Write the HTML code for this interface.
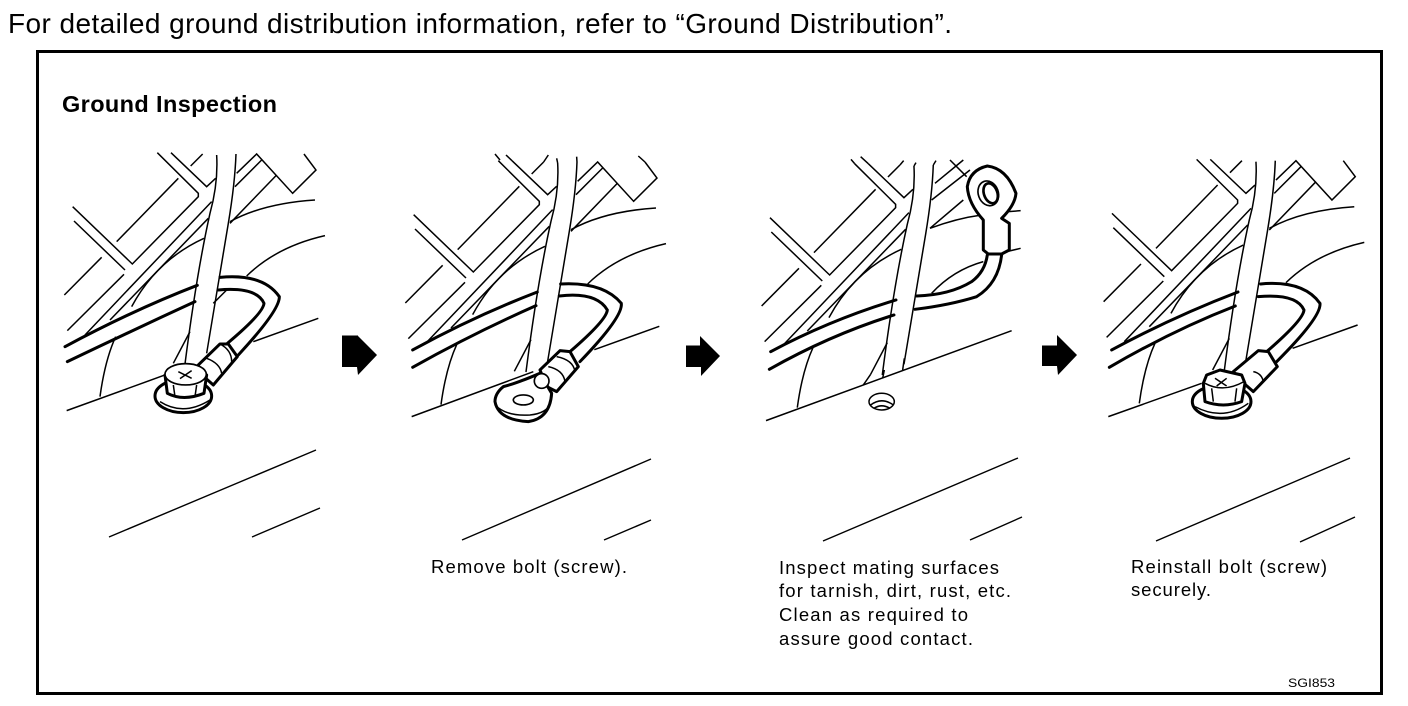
<!DOCTYPE html>
<html><head><meta charset="utf-8"><style>
html,body{margin:0;padding:0;background:#fff;width:1408px;height:706px;overflow:hidden}
svg{display:block}
text{font-family:"Liberation Sans",sans-serif;fill:#000}
.c{font-size:18.500px}
.t{fill:none;stroke:#000;stroke-width:4.500}
.w{fill:none;stroke:#000;stroke-width:9;stroke-linecap:round}
.f{fill:#fff;stroke:#000;stroke-width:9;stroke-linejoin:round}
.g{fill:#fff;stroke:#000;stroke-width:5;stroke-linejoin:round}
</style></head><body>
<svg width="1408" height="706" viewBox="0 0 1408 706" xmlns="http://www.w3.org/2000/svg">
<defs>
<g id="bgL" class="t">
<path d="M68 200L247 372L445 170L445 160L322 38"/>
<path d="M72 243L225 390"/>
<path d="M155 352L43 465"/>
<path d="M222 403L52 572"/>
<path d="M200 305L385 115"/>
<path d="M363 38L470 140L497 115"/>
<path d="M422 78L458 42"/>
<path d="M105 585L485 185"/>
<path d="M180 540L475 235"/>
<path d="M245 500Q320 360 462 295"/>
<path d="M500 45Q505 130 480 220Q440 400 405 672"/>
<path d="M558 42Q555 130 535 250L470 640"/>
<path d="M370 670L420 575"/>
<path d="M150 770Q165 660 197 590"/>
</g>
<g id="bgR" class="t">
<path d="M560 100L620 42L728 160L798 90L762 42"/>
<path d="M555 140L635 60"/>
<path d="M540 250L680 105"/>
<path d="M540 245Q640 190 795 180"/>
<path d="M590 408Q680 320 825 287"/>
<path d="M610 605L805 535"/>
</g>
</defs>

<text x="8" y="33" font-size="28" textLength="944" lengthAdjust="spacing">For detailed ground distribution information, refer to “Ground Distribution”.</text>
<rect x="37.500" y="51.500" width="1344" height="642" fill="none" stroke="#000" stroke-width="3"/>
<text x="62" y="112" font-size="23.500" font-weight="bold" textLength="215" lengthAdjust="spacing">Ground Inspection</text>

<!-- Panel 1 -->
<g transform="translate(50,140) scale(.3333)">
<use href="#bgL"/><use href="#bgR"/>
<path class="t" d="M50 812L345 705"/>
<path class="w" d="M45 620Q250 510 442 436"/>
<path class="w" d="M510 412Q640 400 688 470Q690 510 565 645"/>
<path class="w" d="M52 665Q250 570 435 485"/>
<path class="w" d="M505 450Q620 440 642 490Q640 520 530 612"/>
<path class="t" d="M490 490L530 450"/>
<path class="f" d="M445 675L510 612L535 612L562 650L490 735L450 700Z"/>
<path class="t" d="M470 655Q510 670 515 700M510 612Q545 630 545 665"/>
<ellipse class="f" cx="400" cy="768" rx="85" ry="50"/>
<path class="t" d="M330 785Q400 830 480 780"/>
<path class="f" d="M345 705L352 760Q400 785 462 760L470 705Q410 660 345 705Z"/>
<ellipse class="g" cx="407" cy="703" rx="62" ry="32"/>
<path class="t" d="M385 695L425 715M425 692L390 716M370 735L375 770M440 735L435 770"/>
</g>

<path d="M342 335.500H357V335L377 355L358 375L357 367H342Z"/>

<!-- Panel 2 -->
<g transform="translate(391,148) scale(.3333)">
<use href="#bgL"/><use href="#bgR"/>
</g>
<g transform="translate(400,140) scale(.3333)">
<path class="t" d="M285 42L300 60M318 45L336 62M431 66L445 45M470 55L473 69M530 50L531 66M715 48L735 66"/>
<path class="t" d="M35 830L400 695"/>
<path class="w" d="M38 630Q220 530 412 456"/>
<path class="w" d="M482 432Q610 425 664 490Q670 530 540 665"/>
<path class="w" d="M38 682Q220 580 408 497"/>
<path class="w" d="M478 468Q590 455 622 510Q620 540 510 635"/>
<path class="f" d="M420 690L480 632L510 635L535 680L470 755L440 740Z"/>
<path class="t" d="M445 680Q490 690 495 725M470 650Q520 660 525 695"/>
<path class="f" d="M420 700Q350 730 310 740Q285 760 285 785Q295 840 385 845Q450 835 455 760Z"/>
<path class="t" d="M285 795Q320 830 390 825Q440 820 452 790"/>
<ellipse class="g" cx="370" cy="780" rx="30" ry="15"/>
<circle class="g" cx="425" cy="723" r="22"/>
</g>

<path d="M686 345.500H700V336L720 356L701 376V367H686Z"/>

<!-- Panel 3 -->
<g transform="translate(747.300,151) scale(.3333)">
<use href="#bgL"/>
</g>
<g transform="translate(750,140) scale(.3333)">
<path class="t" d="M303 58L314 71M332 50L355 71M450 75L461 62M498 68L492 78M558 62L550 75"/>
<path class="t" d="M398 715L403 690M458 690L463 655M340 735L362 703"/>
<path class="t" d="M48 842L785 572"/>
<path class="t" d="M555 130L640 60M545 180L660 90M540 265L640 180M540 265Q620 235 695 225M775 215L812 212M770 335L812 325M545 460Q610 390 700 365M600 60L650 110"/>
<path class="w" d="M62 635Q240 540 438 480"/>
<path class="w" d="M500 468Q600 465 665 425Q705 395 712 345"/>
<path class="w" d="M58 688Q240 585 432 525"/>
<path class="w" d="M495 508Q600 495 680 470Q745 430 755 345"/>
<path class="f" d="M700 330V240Q655 190 652 140Q660 90 712 78Q770 85 798 160Q795 195 755 235L778 250V330L755 342H715Z"/>
<ellipse class="g" transform="rotate(-20 715 160)" cx="715" cy="160" rx="30" ry="38"/>
<ellipse cx="722" cy="160" rx="20" ry="31" transform="rotate(-20 722 160)" fill="#fff" stroke="#000" stroke-width="8"/>
<ellipse class="t" cx="395" cy="785" rx="38" ry="25"/>
<path class="t" d="M362 795Q395 770 430 795M372 805Q395 790 420 805"/>
</g>

<path d="M1042 345.500H1057V335L1077 355L1058 375L1057 366H1042Z"/>

<!-- Panel 4 -->
<g transform="translate(1089.300,146.700) scale(.3333)">
<use href="#bgL"/><use href="#bgR"/>
</g>
<g transform="translate(1090,140) scale(.3333)">
<path class="t" d="M55 830L335 730"/>
<path class="w" d="M65 630Q250 530 444 456"/>
<path class="w" d="M512 432Q640 420 690 490Q695 530 560 665"/>
<path class="w" d="M58 682Q250 570 436 498"/>
<path class="w" d="M505 470Q620 460 642 510Q640 540 530 635"/>
<path class="f" d="M430 695L505 632L535 635L562 680L490 755L450 720Z"/>
<path class="t" d="M490 695Q515 700 520 725"/>
<ellipse class="f" cx="395" cy="785" rx="88" ry="50"/>
<path class="t" d="M315 800Q400 845 475 790"/>
<path class="f" d="M340 730L345 785Q400 805 455 785L465 730L455 705L390 690L350 705Z"/>
<path class="t" d="M365 745L370 785M440 745L435 785M345 730Q400 760 462 725"/>
<path class="t" d="M375 715L410 738M410 715L380 738"/>
</g>

<!-- Lower lines -->
<g class="t" style="stroke-width:1.400px">
<path d="M109 537L316 450M252 537L320 508"/>
<path d="M462 540L651 459M604 540L651 520"/>
<path d="M823 541L1018 458M970 540L1022 517"/>
<path d="M1156 541L1350 458M1300 542L1355 517"/>
</g>

<text class="c" x="431" y="573" textLength="196" lengthAdjust="spacing">Remove bolt (screw).</text>
<text class="c" x="779" y="574" textLength="220" lengthAdjust="spacing">Inspect mating surfaces</text>
<text class="c" x="779" y="597" textLength="232" lengthAdjust="spacing">for tarnish, dirt, rust, etc.</text>
<text class="c" x="779" y="621" textLength="189" lengthAdjust="spacing">Clean as required to</text>
<text class="c" x="779" y="645" textLength="194" lengthAdjust="spacing">assure good contact.</text>
<text class="c" x="1131" y="573" textLength="196" lengthAdjust="spacing">Reinstall bolt (screw)</text>
<text class="c" x="1131" y="596" textLength="80" lengthAdjust="spacing">securely.</text>
<text x="1288" y="687" font-size="12" textLength="47" lengthAdjust="spacingAndGlyphs">SGI853</text>
</svg>
</body></html>
